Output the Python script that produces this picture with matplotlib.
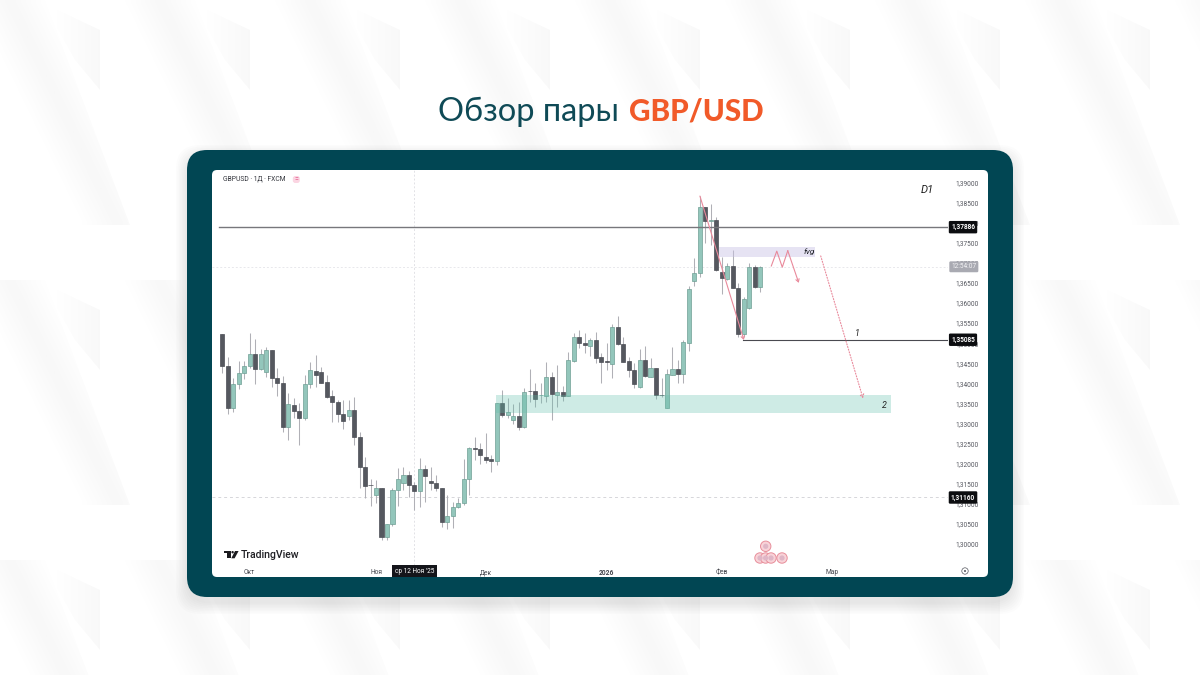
import numpy as np
import matplotlib
matplotlib.use('Agg')
import matplotlib.pyplot as plt
from matplotlib.patches import FancyBboxPatch, Polygon, Circle, Rectangle

W, H = 1200, 675

# prices in 1/10000
opens = [13523, 13444, 13338, 13398, 13425, 13442, 13474, 13436, 13429, 13484,
         13414, 13401, 13292, 13347, 13330, 13313, 13398, 13431, 13428, 13403,
         13368, 13354, 13323, 13319, 13333, 13267, 13191, 13147, 13122, 13139,
         13018, 13049, 13135, 13153, 13171, 13147, 13131, 13187, 13156, 13151,
         13139, 13055, 13070, 13093, 13102, 13163, 13238, 13236, 13216, 13211,
         13208, 13350, 13321, 13310, 13318, 13292, 13382, 13381, 13370, 13369,
         13417, 13372, 13378, 13369, 13456, 13516, 13500, 13494, 13508, 13465,
         13456, 13448, 13539, 13498, 13456, 13433, 13391, 13458, 13417, 13438,
         13372, 13339, 13422, 13435, 13423, 13501, 13655, 13675, 13839, 13804,
         13806, 13677, 13660, 13692, 13638, 13523, 13587, 13689, 13639]
closes = [13444, 13338, 13398, 13425, 13442, 13474, 13436, 13473, 13484, 13413,
          13400, 13292, 13349, 13330, 13313, 13399, 13432, 13420, 13402, 13366,
          13353, 13323, 13307, 13333, 13267, 13191, 13145, 13146, 13139, 13018,
          13049, 13135, 13161, 13172, 13147, 13131, 13187, 13169, 13152, 13139,
          13055, 13070, 13093, 13103, 13163, 13238, 13237, 13222, 13209, 13207,
          13350, 13322, 13328, 13320, 13292, 13379, 13380, 13361, 13372, 13417,
          13373, 13378, 13369, 13458, 13516, 13500, 13495, 13508, 13463, 13453,
          13454, 13541, 13498, 13454, 13433, 13398, 13458, 13419, 13438, 13370,
          13371, 13423, 13435, 13423, 13503, 13635, 13675, 13839, 13804, 13806,
          13682, 13661, 13692, 13638, 13523, 13609, 13689, 13639, 13690]
highs = [13523, 13465, 13413, 13456, 13456, 13525, 13510, 13485, 13490, 13484,
         13437, 13418, 13375, 13364, 13350, 13421, 13452, 13470, 13441, 13421,
         13383, 13359, 13359, 13359, 13366, 13278, 13216, 13162, 13159, 13139,
         13050, 13140, 13189, 13193, 13182, 13155, 13215, 13198, 13193, 13172,
         13139, 13122, 13105, 13114, 13213, 13242, 13267, 13252, 13276, 13222,
         13352, 13383, 13363, 13349, 13354, 13388, 13436, 13400, 13400, 13454,
         13429, 13445, 13393, 13477, 13525, 13533, 13526, 13512, 13528, 13475,
         13501, 13548, 13567, 13515, 13466, 13450, 13485, 13493, 13462, 13438,
         13413, 13435, 13491, 13458, 13508, 13642, 13713, 13866, 13839, 13846,
         13813, 13714, 13699, 13732, 13649, 13616, 13699, 13694, 13692]
lows = [13426, 13323, 13328, 13386, 13411, 13439, 13399, 13433, 13416, 13391,
        13369, 13278, 13259, 13313, 13247, 13310, 13388, 13390, 13400, 13363,
        13304, 13303, 13286, 13309, 13247, 13139, 13114, 13096, 13103, 13010,
        13010, 13045, 13095, 13135, 13117, 13085, 13093, 13104, 13135, 13133,
        13042, 13037, 13039, 13091, 13097, 13122, 13209, 13200, 13203, 13179,
        13197, 13317, 13313, 13300, 13285, 13288, 13353, 13342, 13350, 13354,
        13310, 13340, 13357, 13368, 13454, 13487, 13476, 13468, 13450, 13400,
        13433, 13413, 13495, 13453, 13415, 13388, 13389, 13416, 13416, 13362,
        13366, 13338, 13421, 13400, 13400, 13481, 13642, 13665, 13748, 13744,
        13680, 13622, 13657, 13637, 13515, 13516, 13585, 13637, 13628]

price_ticks = [1.30, 1.305, 1.31, 1.315, 1.32, 1.325, 1.33, 1.335, 1.34, 1.345,
               1.35, 1.355, 1.36, 1.365, 1.37, 1.375, 1.38, 1.385, 1.39]
date_pos = [5, 28, 48, 70, 91, 111]
date_labels = ['Окт', 'Ноя', 'Дек', '2026', 'Фев', 'Мар']
cursor_pos = 35
level_top = 1.37886
level_mid = 1.35085
level_low = 1.31160
last_price = 1.3690
zone_x = [49.8, 121.8]
zone_y = [1.3326, 1.3370]
fvg_x = [90.5, 108]
fvg_y = [1.3715, 1.3739]
drop_x = [87, 95]
drop_y = [1.3866, 1.3508]
zig_x = [100, 101, 102, 103, 105]
zig_y = [1.3692, 1.3729, 1.3689, 1.3730, 1.3650]
plan_x = [109, 116.7]
plan_y = [1.3717, 1.3363]

TEAL = '#014653'
GREEN = '#93c6bb'
GREEN_E = '#6f9f95'
DARK = '#55585f'
WICK = '#b0b0b6'
PINK = '#e9899b'
FONT = ['Roboto', 'DejaVu Sans']


def grad_poly(ax, verts, p0, p1, strength, tent=False):
    # soft grey shape, fades from p0 to p1 (tent: fades to both sides)
    v = np.array(verts, dtype=float)
    x0, x1, y0, y1 = v[:, 0].min(), v[:, 0].max(), v[:, 1].min(), v[:, 1].max()
    xs, ys = np.meshgrid(np.linspace(x0, x1, 40), np.linspace(y0, y1, 40))
    dx, dy = p1[0] - p0[0], p1[1] - p0[1]
    t = np.clip(((xs - p0[0]) * dx + (ys - p0[1]) * dy) / (dx * dx + dy * dy), 0, 1)
    img = np.zeros((40, 40, 4))
    img[..., 3] = strength * (1 - np.abs(2 * t - 1) if tent else 1 - t)
    im = ax.imshow(img, extent=(x0, x1, y1, y0), aspect='auto', interpolation='bilinear', zorder=1)
    im.set_clip_path(Polygon(v, closed=True, transform=ax.transData))


fig = plt.figure(figsize=(W / 100, H / 100), dpi=100, facecolor='white')
bg = fig.add_axes([0, 0, 1, 1])
bg.set_xlim(0, W)
bg.set_ylim(H, 0)
bg.axis('off')
bg.set_autoscale_on(False)

# background pattern, very faint
for row in (0, 280, 560):
    for col in range(-1, 9):
        x = col * 150
        grad_poly(bg, [(x - 25, row), (x + 45, row), (x + 130, row + 225), (x + 45, row + 225)],
                  (x - 14, row + 35), (x + 52, row + 3), 0.032, tent=True)
        grad_poly(bg, [(x + 43, row + 3), (x + 100, row + 30), (x + 100, row + 90), (x + 75, row + 60)],
                  (x + 100, row + 40), (x + 50, row + 40), 0.028)

# title
bg.text(438, 112, 'Обзор пары', color='#0f4a56', fontsize=23.5, family='Lato', va='center', ha='left', zorder=5)
bg.text(629, 112, 'GBP/USD', color='#f15a29', fontsize=21.3, family='Lato', weight='black', va='center', ha='left', zorder=5)

# panel with shadow
for i in range(8):
    grow = 22 - i * 3
    bg.add_patch(FancyBboxPatch((187 - grow / 2, 156 - grow / 2), 826 + grow, 447 + grow,
                                boxstyle='round,pad=0,rounding_size=24', fc='black', ec='none', alpha=0.012, zorder=2))
bg.add_patch(FancyBboxPatch((187, 150), 826, 447, boxstyle='round,pad=0,rounding_size=20',
                            fc=TEAL, ec='none', zorder=3))
bg.add_patch(FancyBboxPatch((212, 170), 776, 407, boxstyle='round,pad=0,rounding_size=5',
                            fc='white', ec='none', zorder=4))

# TradingView logo
bg.add_patch(Polygon([(224.3, 551), (230.6, 551), (230.6, 558.3), (227.4, 558.3), (227.4, 553.4), (224.3, 553.4)],
                     fc='#1b1b1f', ec='none', zorder=5))
bg.add_patch(Circle((232.6, 552.2), 1.2, fc='#1b1b1f', ec='none', zorder=5))
bg.add_patch(Polygon([(235, 551), (238.6, 551), (234.6, 558.3), (231.3, 558.3)], fc='#1b1b1f', ec='none', zorder=5))
bg.text(241, 554.6, 'TradingView', fontsize=7.6, family=FONT, weight='medium', color='#1f1f24', va='center', zorder=5)

# chart header
bg.text(223, 179.5, 'GBPUSD · 1Д · FXCM', fontsize=4.9, family=FONT, color='#33353c', va='center', zorder=5)
bg.add_patch(FancyBboxPatch((292.8, 176), 7, 7, boxstyle='round,pad=0,rounding_size=2.5', fc='#fbd5e2', ec='none', zorder=5))
bg.text(296.3, 179.4, '=', fontsize=5, family=FONT, color='#e0487f', ha='center', va='center', zorder=6)

# calendar events
for cx, cy in [(765.7, 546.3), (760, 558), (765.6, 558), (771, 558), (782, 558)]:
    bg.add_patch(Circle((cx, cy), 5.2, fc='#f8d3d8', ec='#e88e9b', lw=0.7, zorder=5))
    bg.add_patch(Circle((cx, cy), 2.6, fc='#dfb6c6', ec='none', zorder=6))

# settings icon
bg.add_patch(Circle((965, 571), 3.2, fc='none', ec='#55575f', lw=0.5, zorder=5))
bg.add_patch(Circle((965, 571), 1.0, fc='#55575f', ec='none', zorder=5))

# chart area
left, right, top, bottom = 212, 948, 170, 565
ax = fig.add_axes([left / W, 1 - bottom / H, (right - left) / W, (bottom - top) / H], zorder=6)
ax.patch.set_alpha(0)
ax.set_xlim((left - 222.3) / 5.49, (right - 222.3) / 5.49)
ax.set_ylim(1.39 - (bottom - 182.4) * 0.00024882, 1.39 + (182.4 - top) * 0.00024882)
for s in ax.spines.values():
    s.set_visible(False)

ax.yaxis.tick_right()
ax.set_yticks(price_ticks)
ax.set_yticklabels([f'{p:.5f}'.replace('.', ',') for p in price_ticks], fontsize=4.7, family=FONT, color='#55575f')
ax.tick_params(axis='y', length=0, pad=5)
ax.set_xticks(date_pos)
ax.set_xticklabels(date_labels, fontsize=4.8, family=FONT, color='#44464d')
ax.tick_params(axis='x', length=0, pad=3)
ax.get_xticklabels()[3].set_fontweight('bold')

o = np.array(opens) / 10000
c = np.array(closes) / 10000
hi = np.array(highs) / 10000
lo = np.array(lows) / 10000
idx = np.arange(len(o))
up = c >= o

# faint guide lines
ax.axvline(cursor_pos, color='#e2e2e6', lw=0.7, ls=(0, (2, 2)), zorder=1)
ax.axhline(last_price, color='#e8e8ec', lw=0.7, ls=(0, (2, 2)), zorder=1)
ax.axhline(level_low, color='#d6d6da', lw=0.7, ls=(0, (3, 3)), zorder=1)

ax.vlines(idx, lo, hi, color=WICK, lw=0.75, zorder=2)
ax.bar(idx[up], (c - o)[up], bottom=o[up], width=0.74, color=GREEN, edgecolor=GREEN_E, lw=0.5, zorder=3)
ax.bar(idx[~up], (o - c)[~up], bottom=c[~up], width=0.74, color=DARK, edgecolor='#4b4d55', lw=0.5, zorder=3)

# levels
ax.plot([-0.6, ax.get_xlim()[1]], [level_top, level_top], color='#77777c', lw=1.0, zorder=4)
ax.plot([94.8, ax.get_xlim()[1]], [level_mid, level_mid], color='#4a4a50', lw=0.8, zorder=4)

# zones
ax.add_patch(Rectangle((zone_x[0], zone_y[0]), zone_x[1] - zone_x[0], zone_y[1] - zone_y[0],
                       fc='#5fbfa9', ec='none', alpha=0.3, zorder=4))
ax.add_patch(Rectangle((fvg_x[0], fvg_y[0]), fvg_x[1] - fvg_x[0], fvg_y[1] - fvg_y[0],
                       fc='#c9c3e6', ec='none', alpha=0.45, zorder=2))

# drawings
ax.annotate('', xy=(drop_x[1], drop_y[1]), xytext=(drop_x[0], drop_y[0]),
            arrowprops=dict(arrowstyle='->,head_width=0.12,head_length=0.2', color=PINK, lw=0.8, shrinkA=0, shrinkB=0), zorder=5)
ax.plot(zig_x[:-1], zig_y[:-1], color=PINK, lw=0.8, zorder=5)
ax.annotate('', xy=(zig_x[-1], zig_y[-1]), xytext=(zig_x[-2], zig_y[-2]),
            arrowprops=dict(arrowstyle='->,head_width=0.12,head_length=0.2', color=PINK, lw=0.8, shrinkA=0, shrinkB=0), zorder=5)
ax.annotate('', xy=(plan_x[1], plan_y[1]), xytext=(plan_x[0], plan_y[0]),
            arrowprops=dict(arrowstyle='->,head_width=0.14,head_length=0.22', color=PINK, lw=0.8, ls=(0, (1, 1.5)),
                            shrinkA=0, shrinkB=0), zorder=5)

# labels on chart
ax.text(106.9, 1.3727, 'fvg', fontsize=6, style='italic', family=FONT, color='#22242a', ha='center', va='center', zorder=6)
ax.text(115.7, 1.3525, '1', fontsize=6.4, style='italic', family=FONT, color='#222', ha='center', va='center', zorder=6)
ax.text(120.6, 1.3345, '2', fontsize=6.4, style='italic', family=FONT, color='#222', ha='center', va='center', zorder=6)
ax.text(128.5, 1.3880, 'D1', fontsize=8, style='italic', family=FONT, color='#222', ha='center', va='center', zorder=6)

# price tags
tx = ax.get_yaxis_transform()
for price in (level_top, level_mid, level_low):
    ax.text(1.0204, price, f'{price:.5f}'.replace('.', ','), transform=tx, fontsize=4.7, family=FONT, color='white',
            weight='bold', ha='center', va='center', clip_on=False, zorder=7,
            bbox=dict(boxstyle='round,pad=0.34,rounding_size=0.2', fc='#0c0d10', ec='none'))
ax.text(1.0215, last_price, '12:54:07', transform=tx, fontsize=4.7, family=FONT, color='#f4f4f6', ha='center', va='center',
        clip_on=False, zorder=7, bbox=dict(boxstyle='round,pad=0.3,rounding_size=0.2', fc='#a9aab2', ec='none'))

# date cursor tag
ax.text(cursor_pos, -0.0152, "ср 12 Ноя '25", transform=ax.get_xaxis_transform(), fontsize=4.7, family=FONT, color='white',
        ha='center', va='center', clip_on=False, zorder=7,
        bbox=dict(boxstyle='square,pad=0.4', fc='#14151a', ec='none'))

fig.savefig('out.png', dpi=100)
